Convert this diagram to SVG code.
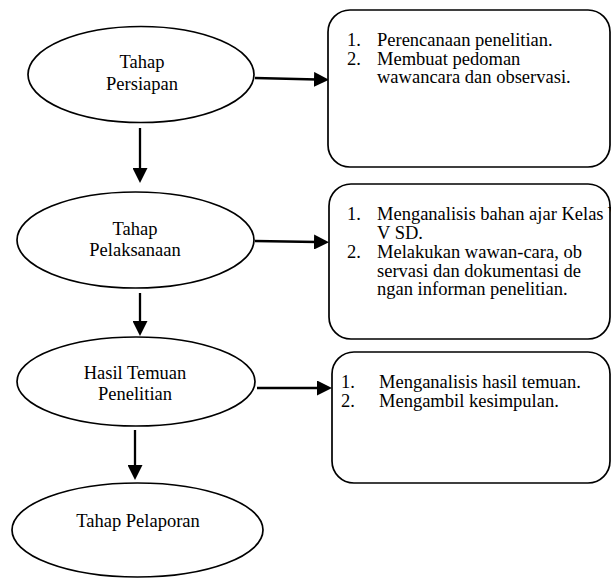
<svg xmlns="http://www.w3.org/2000/svg" width="611" height="580" viewBox="0 0 611 580">
<style>
.shape{fill:#fff;stroke:#000;stroke-width:1.7}
.conn{stroke:#000;stroke-width:2.3;fill:none}
text{font-family:"Liberation Serif","Times New Roman",serif;font-size:18.5px;fill:#000}
.c{text-anchor:middle}
</style>
<defs>
<marker id="ah" viewBox="0 0 15 15" refX="3" refY="7.5" markerWidth="15" markerHeight="15" markerUnits="userSpaceOnUse" orient="auto">
<path d="M0,0 L15,7.5 L0,15 z" fill="#000"/>
</marker>
</defs>
<rect width="611" height="580" fill="#fff"/>
<g id="connectors">
<line class="conn" x1="255" y1="78" x2="317" y2="79.5" marker-end="url(#ah)"/>
<line class="conn" x1="140" y1="128" x2="140" y2="171" marker-end="url(#ah)"/>
<line class="conn" x1="255" y1="241" x2="317" y2="242" marker-end="url(#ah)"/>
<line class="conn" x1="140" y1="293" x2="140" y2="324" marker-end="url(#ah)"/>
<line class="conn" x1="257" y1="388" x2="320" y2="388" marker-end="url(#ah)"/>
<line class="conn" x1="135" y1="430" x2="135" y2="468" marker-end="url(#ah)"/>
</g>
<g id="node-persiapan">
<ellipse class="shape" cx="141" cy="74.5" rx="113" ry="48"/>
<text class="c" x="142" y="68">Tahap</text>
<text class="c" x="142" y="89.5">Persiapan</text>
</g>
<g id="node-pelaksanaan">
<ellipse class="shape" cx="135.5" cy="240" rx="118.5" ry="48"/>
<text class="c" x="135" y="235">Tahap</text>
<text class="c" x="135" y="256">Pelaksanaan</text>
</g>
<g id="node-hasil">
<ellipse class="shape" cx="136" cy="381.5" rx="119" ry="44.5"/>
<text class="c" x="135" y="379">Hasil Temuan</text>
<text class="c" x="135" y="400">Penelitian</text>
</g>
<g id="node-pelaporan">
<ellipse class="shape" cx="137.5" cy="530" rx="125.5" ry="47"/>
<text class="c" x="138" y="527">Tahap Pelaporan</text>
</g>
<g id="box-persiapan">
<rect class="shape" x="328" y="10" width="282" height="157" rx="22" ry="22"/>
<text x="347" y="46">1.</text><text x="377" y="46">Perencanaan penelitian.</text>
<text x="347" y="64.5">2.</text><text x="377" y="64.5">Membuat pedoman</text>
<text x="377" y="83">wawancara dan observasi.</text>
</g>
<g id="box-pelaksanaan">
<rect class="shape" x="329" y="184" width="281" height="155" rx="22" ry="22"/>
<text x="347" y="220">1.</text><text x="377" y="220">Menganalisis bahan ajar Kelas V</text>
<text x="377" y="239">V SD.</text>
<text x="347" y="258">2.</text><text x="377" y="258">Melakukan wawan-cara, ob</text>
<text x="377" y="276.5">servasi dan dokumentasi de</text>
<text x="377" y="295">ngan informan penelitian.</text>
</g>
<g id="box-hasil">
<rect class="shape" x="332" y="352" width="278" height="131" rx="22" ry="22"/>
<text x="341" y="388">1.</text><text x="379" y="388">Menganalisis hasil temuan.</text>
<text x="341" y="407">2.</text><text x="379" y="407">Mengambil kesimpulan.</text>
</g>
</svg>
